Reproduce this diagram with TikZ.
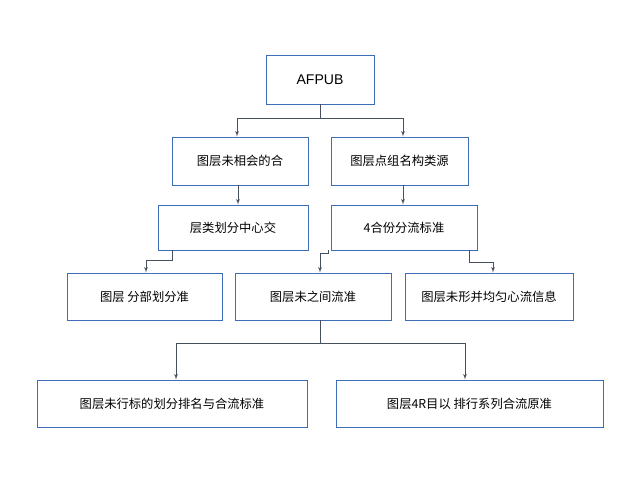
\documentclass[tikz,border=0pt]{standalone}
\usepackage{fontspec}
\setmainfont{Liberation Sans}
\newfontfamily\cjk{Noto Sans CJK SC}
\usetikzlibrary{shapes,arrows}
\definecolor{boxblue}{RGB}{62,110,185}
\definecolor{wiregray}{RGB}{70,80,95}
\tikzstyle{block} = [rectangle, draw=boxblue, line width=0.8pt, fill=white, inner sep=0pt, font=\cjk\fontsize{10.5}{12}\selectfont]
\tikzstyle{line} = [draw, wiregray, line width=0.6pt, -latex']
\tikzstyle{wire} = [draw, wiregray, line width=0.6pt]
\begin{document}
\begin{tikzpicture}[x=0.03cm,y=-0.03cm]
					\useasboundingbox (0,0) rectangle (640,480);
					\node[block,minimum width=108*0.03cm,minimum height=49*0.03cm,font=\fontsize{12}{14}\selectfont] (root) at (320,79.5) {AFPUB};
					\node[block,minimum width=136*0.03cm,minimum height=48*0.03cm] (combine) at (240,161) {图层未相会的合};
					\node[block,minimum width=137*0.03cm,minimum height=48*0.03cm] (source) at (399.5,161) {图层点组名构类源};
					\node[block,minimum width=150*0.03cm,minimum height=45*0.03cm] (middle) at (233,227.5) {层类划分中心交};
					\node[block,minimum width=146*0.03cm,minimum height=45*0.03cm] (standard) at (404,227.5) {4合份分流标准};
					\node[block,minimum width=155*0.03cm,minimum height=47*0.03cm] (division) at (144.5,296.5) {图层 分部划分准};
					\node[block,minimum width=156*0.03cm,minimum height=47*0.03cm] (between) at (313,296.5) {图层未之间流准};
					\node[block,minimum width=168*0.03cm,minimum height=47*0.03cm] (center) at (489,296.5) {图层未形并均匀心流信息};
					\node[block,minimum width=270*0.03cm,minimum height=47*0.03cm] (rank) at (172,403.5) {图层未行标的划分排名与合流标准};
					\node[block,minimum width=267*0.03cm,minimum height=47*0.03cm] (group) at (469.5,403.5) {图层4R目以 排行系列合流原准};
					\coordinate (split1) at (320,118);
					\coordinate (split2) at (320,343);
					
					\path[wire] (root) -- (split1);
					\path[line] (split1) -| (combine.north -| 237,0);
					\path[line] (split1) -| (source.north -| 403,0);
					\path[line] (combine.south -| 238,0) -- (middle.north -| 238,0);
					\path[line] (source.south -| 403,0) -- (standard.north -| 403,0);
					\path[line] (middle.south -| 172,0) |- (146,260) -- (division.north -| 146,0);
					\path[line] (standard.south -| 328,0) |- (320,253) -- (between.north -| 320,0);
					\path[line] (standard.south -| 469,0) |- (493,262) -- (center.north -| 493,0);
					\path[wire] (between.south -| 320,0) -- (split2);
					\path[line] (split2) -| (rank.north -| 176,0);
					\path[line] (split2) -| (group.north -| 465,0);
				\end{tikzpicture}
\end{document}
